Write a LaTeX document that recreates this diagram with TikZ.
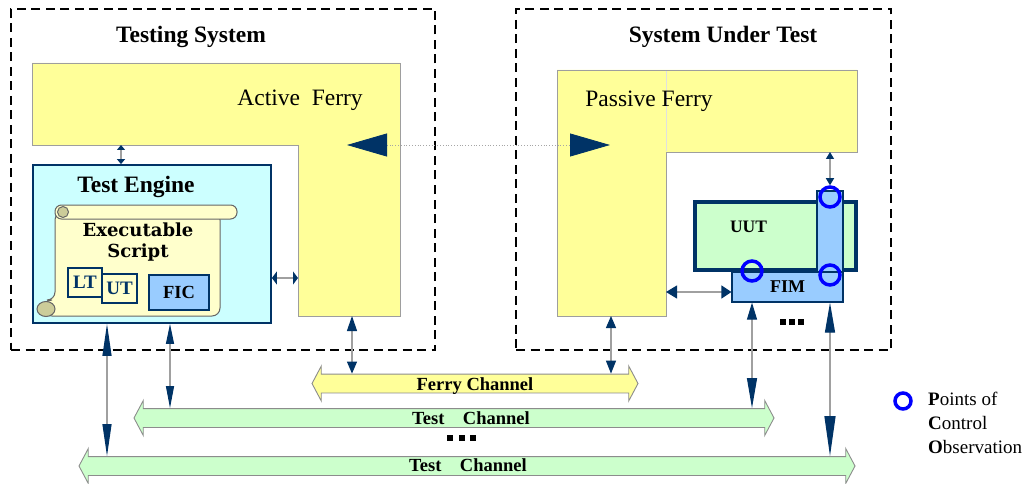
\documentclass[tikz,border=0pt]{standalone}
\usepackage{fontspec}
\setmainfont{Liberation Serif}
\newfontfamily\bookfont{DejaVu Serif}
\usetikzlibrary{arrows.meta,positioning,calc,shapes.arrows}
\definecolor{navy}{HTML}{003366}
\definecolor{wire}{HTML}{A0A0A0}
\definecolor{ferryfill}{HTML}{FFFF99}
\definecolor{enginefill}{HTML}{CCFFFF}
\definecolor{uutfill}{HTML}{CCFFCC}
\definecolor{fimfill}{HTML}{99CCFF}
\definecolor{paper}{HTML}{FFFFCC}
\definecolor{roll}{HTML}{CCCC99}
\definecolor{pcoblue}{HTML}{0000FF}
\tikzset{
  >={Triangle[color=navy]},
  system/.style={draw=black, line width=2.4pt, dash pattern=on 9pt off 5.5pt, minimum height=341pt},
  ferry/.style={draw=black!38, line width=0.8pt, fill=ferryfill},
  seam/.style={draw=black!12, line width=0.5pt},
  heading/.style={font=\fontsize{23.5}{28}\selectfont\bfseries, anchor=base, inner sep=0pt},
  ferrylabel/.style={font=\fontsize{23.5}{28}\selectfont, anchor=base, inner sep=0pt},
  engine/.style={draw=navy, line width=1.8pt, fill=enginefill, minimum width=238pt, minimum height=158pt},
  scrollline/.style={draw=black!60, line width=1pt},
  scripttext/.style={font=\bookfont\bfseries\fontsize{18}{21}\selectfont, align=center, inner sep=0pt},
  tag/.style={draw=navy, line width=1.6pt, fill=paper, text=navy, font=\fontsize{19}{19}\selectfont\bfseries, inner sep=0pt, minimum height=29pt},
  ficbox/.style={draw=navy, line width=1.6pt, fill=fimfill, font=\fontsize{18.5}{19}\selectfont\bfseries, inner sep=0pt, minimum width=60pt, minimum height=35pt},
  uutbox/.style={draw=navy, line width=4.5pt, fill=uutfill, minimum width=161pt, minimum height=68pt},
  fimbox/.style={draw=navy, line width=1.2pt, fill=fimfill, font=\fontsize{18}{19}\selectfont\bfseries, inner sep=0pt, minimum width=111pt, minimum height=30pt},
  probe/.style={draw=navy, line width=1.2pt, fill=fimfill, minimum width=26pt, minimum height=81pt},
  pco/.style={circle, draw=pcoblue, line width=3.5pt, minimum size=20pt, inner sep=0pt},
  channel/.style={double arrow, draw=black!45, line width=0.9pt, double arrow head extend=8pt, double arrow tip angle=124, inner xsep=0pt, inner ysep=9pt},
  chanlabel/.style={font=\fontsize{18.5}{19}\selectfont\bfseries, anchor=base, inner sep=0pt},
  keytext/.style={font=\fontsize{19}{24}\selectfont, align=left, inner sep=0pt},
  link/.style={draw=wire, line width=1.2pt},
  carrier/.style={draw=black!35, line width=0.8pt, dotted}
}

\begin{document}
\begin{tikzpicture}[x=1pt,y=-1pt]
  \useasboundingbox (0,0) rectangle (1026,484);

  % Systems
  \node[system, minimum width=424pt] (ts) at (223,179.5) {};
  \node[system, minimum width=375pt] (sut) at (703.5,179.5) {};
  \node[heading] (ts-title) at (191,43) {Testing System};
  \node[heading] (sut-title) at (723,43) {System Under Test};

  % Ferries
  \draw[ferry] (32,63) -- (400,63) -- (400,316) -- (298,316) -- (298,145) -- (32,145) -- cycle;
  \draw[ferry] (557,70) -- (857,70) -- (857,152) -- (666,152) -- (666,316) -- (557,316) -- cycle;
  \draw[seam] (666,71) -- (666,151);
  \node[ferrylabel] (af) at (300,106) {Active\ \ Ferry};
  \node[ferrylabel] (pf) at (649,107) {Passive Ferry};
  \coordinate (af-tip) at (347,145);
  \coordinate (af-e) at (121,145);
  \coordinate (af-w) at (298,278);
  \coordinate (af-s) at (352,316);
  \coordinate (pf-tip) at (610,145);
  \coordinate (pf-w) at (666,292);
  \coordinate (pf-n) at (830,152);
  \coordinate (pf-s) at (611,316);

  % Test engine and script
  \node[engine] (eng) at (152,244) {};
  \node[heading] (eng-title) at (136,193) {Test Engine};
  \draw[scrollline, fill=paper, rounded corners=8pt] (55,212) -- (220,212) -- (220,316) -- (44,316) -- (44,300) -- (55,300) -- cycle;
  \draw[scrollline, fill=paper, rounded corners=6.5pt] (55,205) rectangle (237,219);
  \draw[scrollline, fill=roll] (63,212) circle[radius=5.5pt];
  \draw[scrollline, fill=roll] (46,309) ellipse[x radius=9pt, y radius=7.5pt];
  \node[scripttext] (exe) at (138,242.5) {Executable\\Script};
  \node[tag, minimum width=34pt] (lt) at (85,282.5) {LT};
  \node[tag, minimum width=35pt] (ut) at (119.5,288.5) {UT};
  \node[ficbox] (fic) at (179,292.5) {FIC};
  \coordinate (eng-l) at ([xshift=-45pt]eng.south);
  \coordinate (eng-r) at ([xshift=18pt]eng.south);

  % Unit under test
  \node[fimbox] (fim) at (787.5,287) {FIM};
  \node[uutbox] (uut) at (775.5,236) {};
  \node[heading, font=\fontsize{17.5}{19}\selectfont\bfseries] (uut-title) at (748.5,233) {UUT};
  \node[probe] (bar) at (830,231.5) {};
  \foreach \i in {0,1,2}
    \fill (780+9*\i,319) rectangle +(5.5,5.5);

  % Channels
  \node[channel, fill=ferryfill, minimum height=326pt] (fc) at (475,383.5) {};
  \node[channel, fill=uutfill, minimum height=640pt] (tc1) at (454,418) {};
  \node[channel, fill=uutfill, minimum height=776pt] (tc2) at (467,466) {};
  \node[chanlabel] (fc-label) at (475,390) {Ferry Channel};
  \node[chanlabel] (tc1-label) at (471,424) {Test\quad Channel};
  \node[chanlabel] (tc2-label) at (468,471) {Test\quad Channel};
  \foreach \i in {0,1,2}
    \fill (447+11.5*\i,435) rectangle +(6,6);

  % Links
  \draw[link, {<[length=5pt,width=8pt]}-{>[length=5pt,width=8pt]}] (af-e) -- (af-e |- eng.north);
  \draw[link, {<[length=5pt,width=13pt]}-{>[length=5pt,width=13pt]}] (eng.east |- af-w) -- (af-w);
  \draw[carrier, {<[length=40pt,width=23pt]}-{>[length=40pt,width=23pt]}] (af-tip) -- (pf-tip);
  \draw[link, {<[length=11pt,width=13pt]}-{>[length=10pt,width=13pt]}] (pf-w) -- (fim.west |- pf-w);
  \draw[link, {<[length=15pt,width=10pt]}-{>[length=12pt,width=10pt]}] (af-s) -- (af-s |- fc.north);
  \draw[link, {<[length=12pt,width=10pt]}-{>[length=13pt,width=10pt]}] (pf-s) -- (pf-s |- fc.north);
  \draw[link, {<[length=20pt,width=8pt]}-{>[length=22pt,width=8pt]}] (eng-r) -- (eng-r |- tc1.north);
  \draw[link, {<[length=32pt,width=9pt]}-{>[length=32pt,width=9pt]}] (eng-l) -- (eng-l |- tc2.north);

  % Points of control and observation
  \node[pco] (c1) at (830,197) {};
  \node[pco] (c2) at (752,271) {};
  \node[pco] (c3) at (830,275) {};
  \draw[link, {<[length=7pt,width=8pt]}-{>[length=7pt,width=8pt]}] (pf-n) -- (c1.north);
  \draw[link, {<[length=17pt,width=10pt]}-{>[length=30pt,width=10pt]}] (c2 |- fim.south) -- (c2 |- tc1.north);
  \draw[link, {<[length=30pt,width=10pt]}-{>[length=40pt,width=11pt]}] (c3 |- fim.south) -- (c3 |- tc2.north);

  % Legend
  \node[pco, minimum size=16pt] (key) at (903,401) {};
  \node[keytext, anchor=north west] (key-text) at (928,392) {\textbf{P}oints of\\\textbf{C}ontrol\\\textbf{O}bservation};
\end{tikzpicture}
\end{document}
